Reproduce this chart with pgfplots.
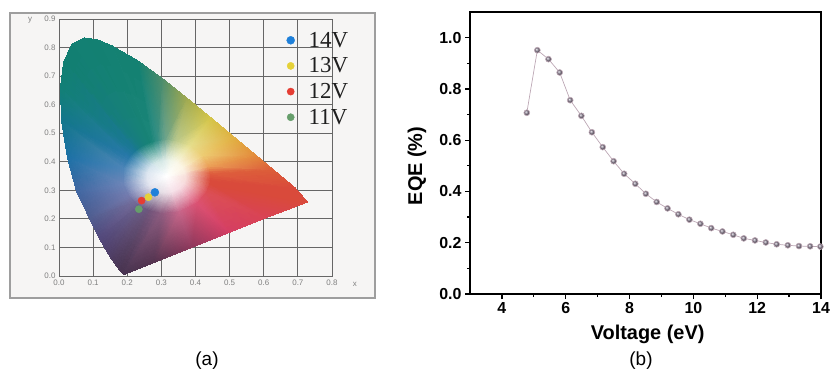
\documentclass[border=0pt]{standalone}
\usepackage{fontspec}
\setmainfont{Liberation Sans}
\newfontfamily\seriffont{Liberation Serif}
\usepackage{pgfplots}
\pgfplotsset{compat=1.18}
\definecolor{framegray}{rgb}{0.62,0.62,0.62}
\definecolor{framebg}{rgb}{0.965,0.96,0.955}
\definecolor{gridgray}{rgb}{0.40,0.40,0.40}
\definecolor{ticklab}{rgb}{0.50,0.50,0.50}
\definecolor{legtext}{rgb}{0.12,0.12,0.12}
\definecolor{c14}{rgb}{0.12,0.50,0.85}
\definecolor{c13}{rgb}{0.90,0.82,0.22}
\definecolor{c12}{rgb}{0.90,0.24,0.20}
\definecolor{c11}{rgb}{0.40,0.62,0.42}
\definecolor{eqeline}{rgb}{0.74,0.66,0.71}
\definecolor{eqeball}{rgb}{0.55,0.51,0.58}
\begin{document}
\begin{tikzpicture}[x=1bp,y=1bp]
\useasboundingbox (0,0) rectangle (831,377);
\draw[line width=1.4bp, draw=framegray, fill=framebg] (10,79) rectangle (375,364);
\begin{axis}[
  at={(59bp,101bp)}, anchor=south west, scale only axis,
  width=273bp, height=257bp,
  xmin=0, xmax=0.8, ymin=0, ymax=0.9,
  xtick={0,0.1,0.2,0.3,0.4,0.5,0.6,0.7,0.8},
  xticklabels={0.0,0.1,0.2,0.3,0.4,0.5,0.6,0.7,0.8},
  ytick={0,0.1,0.2,0.3,0.4,0.5,0.6,0.7,0.8,0.9},
  yticklabels={0.0,0.1,0.2,0.3,0.4,0.5,0.6,0.7,0.8,0.9},
  grid=major, grid style={draw=gridgray, line width=0.9bp},
  axis line style={draw=gridgray, line width=0.9bp},
  major tick length=0pt,
  tick label style={font=\fontsize{8}{9}\selectfont, text=ticklab},
  clip=false,
  legend style={at={(0.826,0.962)}, anchor=north west, draw=none, fill=none,
    font=\seriffont\fontsize{23}{25}\selectfont, text=legtext,
    row sep=7bp, inner sep=2bp, nodes={inner sep=1bp},
    /tikz/every odd column/.append style={column sep=13bp}},
  legend cell align=left,
]
% centre: white point to inner (pale) ring
\addplot[patch, patch type=triangle, shader=interp, mesh/color input=explicit, forget plot] table[meta=c] {
x y c
0.315 0.348 rgb=1,1,1
0.3724 0.3367 rgb=0.97,0.86,0.85
0.3732 0.3419 rgb=0.97,0.86,0.85
0.315 0.348 rgb=1,1,1
0.3732 0.3419 rgb=0.97,0.86,0.85
0.3733 0.3526 rgb=0.97,0.87,0.85
0.315 0.348 rgb=1,1,1
0.3733 0.3526 rgb=0.97,0.87,0.85
0.3712 0.3644 rgb=0.98,0.92,0.87
0.315 0.348 rgb=1,1,1
0.3712 0.3644 rgb=0.98,0.92,0.87
0.3629 0.3816 rgb=0.99,0.96,0.89
0.315 0.348 rgb=1,1,1
0.3629 0.3816 rgb=0.99,0.96,0.89
0.3460 0.3976 rgb=0.98,0.97,0.91
0.315 0.348 rgb=1,1,1
0.3460 0.3976 rgb=0.98,0.97,0.91
0.3270 0.4052 rgb=0.94,0.96,0.91
0.315 0.348 rgb=1,1,1
0.3270 0.4052 rgb=0.94,0.96,0.91
0.3127 0.4065 rgb=0.88,0.93,0.91
0.315 0.348 rgb=1,1,1
0.3127 0.4065 rgb=0.88,0.93,0.91
0.3030 0.4052 rgb=0.84,0.91,0.90
0.315 0.348 rgb=1,1,1
0.3030 0.4052 rgb=0.84,0.91,0.90
0.2957 0.4032 rgb=0.82,0.90,0.89
0.315 0.348 rgb=1,1,1
0.2957 0.4032 rgb=0.82,0.90,0.89
0.2924 0.4019 rgb=0.82,0.90,0.89
0.315 0.348 rgb=1,1,1
0.2924 0.4019 rgb=0.82,0.90,0.89
0.2890 0.4004 rgb=0.82,0.90,0.89
0.315 0.348 rgb=1,1,1
0.2890 0.4004 rgb=0.82,0.90,0.89
0.2851 0.3983 rgb=0.82,0.90,0.90
0.315 0.348 rgb=1,1,1
0.2851 0.3983 rgb=0.82,0.90,0.90
0.2799 0.3948 rgb=0.82,0.90,0.90
0.315 0.348 rgb=1,1,1
0.2799 0.3948 rgb=0.82,0.90,0.90
0.2733 0.3891 rgb=0.82,0.89,0.92
0.315 0.348 rgb=1,1,1
0.2733 0.3891 rgb=0.82,0.89,0.92
0.2653 0.3788 rgb=0.83,0.89,0.93
0.315 0.348 rgb=1,1,1
0.2653 0.3788 rgb=0.83,0.89,0.93
0.2579 0.3607 rgb=0.86,0.90,0.94
0.315 0.348 rgb=1,1,1
0.2579 0.3607 rgb=0.86,0.90,0.94
0.2576 0.3367 rgb=0.88,0.90,0.94
0.315 0.348 rgb=1,1,1
0.2576 0.3367 rgb=0.88,0.90,0.94
0.2648 0.3180 rgb=0.89,0.90,0.94
0.315 0.348 rgb=1,1,1
0.2648 0.3180 rgb=0.89,0.90,0.94
0.2728 0.3075 rgb=0.89,0.88,0.92
0.315 0.348 rgb=1,1,1
0.2728 0.3075 rgb=0.89,0.88,0.92
0.2789 0.3020 rgb=0.88,0.88,0.91
0.315 0.348 rgb=1,1,1
0.2789 0.3020 rgb=0.88,0.88,0.91
0.2829 0.2991 rgb=0.88,0.87,0.90
0.315 0.348 rgb=1,1,1
0.2829 0.2991 rgb=0.88,0.87,0.90
0.2897 0.2953 rgb=0.88,0.87,0.90
0.315 0.348 rgb=1,1,1
0.2897 0.2953 rgb=0.88,0.87,0.90
0.2928 0.2939 rgb=0.89,0.87,0.90
0.315 0.348 rgb=1,1,1
0.2928 0.2939 rgb=0.89,0.87,0.90
0.3081 0.2899 rgb=0.91,0.87,0.90
0.315 0.348 rgb=1,1,1
0.3081 0.2899 rgb=0.91,0.87,0.90
0.3323 0.2922 rgb=0.96,0.88,0.91
0.315 0.348 rgb=1,1,1
0.3323 0.2922 rgb=0.96,0.88,0.91
0.3557 0.3060 rgb=0.97,0.86,0.89
0.315 0.348 rgb=1,1,1
0.3557 0.3060 rgb=0.97,0.86,0.89
0.3679 0.3229 rgb=0.97,0.86,0.87
0.315 0.348 rgb=1,1,1
0.3679 0.3229 rgb=0.97,0.86,0.87
0.3724 0.3367 rgb=0.97,0.86,0.85
};
% quads: pale ring to coloured ring, then coloured ring to spectral locus / purple line
\addplot[patch, patch type=rectangle, shader=interp, mesh/color input=explicit, forget plot] table[meta=c] {
x y c
0.3724 0.3367 rgb=0.97,0.86,0.85
0.3732 0.3419 rgb=0.97,0.86,0.85
0.4443 0.3344 rgb=0.85,0.29,0.23
0.4426 0.3229 rgb=0.85,0.29,0.23
0.3732 0.3419 rgb=0.97,0.86,0.85
0.3733 0.3526 rgb=0.97,0.87,0.85
0.4446 0.3582 rgb=0.87,0.36,0.24
0.4443 0.3344 rgb=0.85,0.29,0.23
0.3733 0.3526 rgb=0.97,0.87,0.85
0.3712 0.3644 rgb=0.98,0.92,0.87
0.4398 0.3845 rgb=0.92,0.62,0.34
0.4446 0.3582 rgb=0.87,0.36,0.24
0.3712 0.3644 rgb=0.98,0.92,0.87
0.3629 0.3816 rgb=0.99,0.96,0.89
0.4214 0.4227 rgb=0.93,0.80,0.45
0.4398 0.3845 rgb=0.92,0.62,0.34
0.3629 0.3816 rgb=0.99,0.96,0.89
0.3460 0.3976 rgb=0.98,0.97,0.91
0.3839 0.4583 rgb=0.90,0.87,0.55
0.4214 0.4227 rgb=0.93,0.80,0.45
0.3460 0.3976 rgb=0.98,0.97,0.91
0.3270 0.4052 rgb=0.94,0.96,0.91
0.3417 0.4752 rgb=0.72,0.78,0.55
0.3839 0.4583 rgb=0.90,0.87,0.55
0.3270 0.4052 rgb=0.94,0.96,0.91
0.3127 0.4065 rgb=0.88,0.93,0.91
0.3099 0.4779 rgb=0.42,0.64,0.55
0.3417 0.4752 rgb=0.72,0.78,0.55
0.3127 0.4065 rgb=0.88,0.93,0.91
0.3030 0.4052 rgb=0.84,0.91,0.90
0.2883 0.4752 rgb=0.20,0.56,0.52
0.3099 0.4779 rgb=0.42,0.64,0.55
0.3030 0.4052 rgb=0.84,0.91,0.90
0.2957 0.4032 rgb=0.82,0.90,0.89
0.2720 0.4707 rgb=0.10,0.52,0.47
0.2883 0.4752 rgb=0.20,0.56,0.52
0.2957 0.4032 rgb=0.82,0.90,0.89
0.2924 0.4019 rgb=0.82,0.90,0.89
0.2647 0.4678 rgb=0.09,0.51,0.46
0.2720 0.4707 rgb=0.10,0.52,0.47
0.2924 0.4019 rgb=0.82,0.90,0.89
0.2890 0.4004 rgb=0.82,0.90,0.89
0.2573 0.4645 rgb=0.09,0.51,0.47
0.2647 0.4678 rgb=0.09,0.51,0.46
0.2890 0.4004 rgb=0.82,0.90,0.89
0.2851 0.3983 rgb=0.82,0.90,0.90
0.2485 0.4597 rgb=0.09,0.50,0.48
0.2573 0.4645 rgb=0.09,0.51,0.47
0.2851 0.3983 rgb=0.82,0.90,0.90
0.2799 0.3948 rgb=0.82,0.90,0.90
0.2371 0.4521 rgb=0.09,0.49,0.50
0.2485 0.4597 rgb=0.09,0.50,0.48
0.2799 0.3948 rgb=0.82,0.90,0.90
0.2733 0.3891 rgb=0.82,0.89,0.92
0.2224 0.4393 rgb=0.10,0.47,0.58
0.2371 0.4521 rgb=0.09,0.49,0.50
0.2733 0.3891 rgb=0.82,0.89,0.92
0.2653 0.3788 rgb=0.83,0.89,0.93
0.2046 0.4165 rgb=0.15,0.47,0.66
0.2224 0.4393 rgb=0.10,0.47,0.58
0.2653 0.3788 rgb=0.83,0.89,0.93
0.2579 0.3607 rgb=0.86,0.90,0.94
0.1881 0.3762 rgb=0.30,0.52,0.72
0.2046 0.4165 rgb=0.15,0.47,0.66
0.2579 0.3607 rgb=0.86,0.90,0.94
0.2576 0.3367 rgb=0.88,0.90,0.94
0.1875 0.3229 rgb=0.42,0.52,0.72
0.1881 0.3762 rgb=0.30,0.52,0.72
0.2576 0.3367 rgb=0.88,0.90,0.94
0.2648 0.3180 rgb=0.89,0.90,0.94
0.2034 0.2813 rgb=0.45,0.48,0.68
0.1875 0.3229 rgb=0.42,0.52,0.72
0.2648 0.3180 rgb=0.89,0.90,0.94
0.2728 0.3075 rgb=0.89,0.88,0.92
0.2213 0.2579 rgb=0.45,0.42,0.60
0.2034 0.2813 rgb=0.45,0.48,0.68
0.2728 0.3075 rgb=0.89,0.88,0.92
0.2789 0.3020 rgb=0.88,0.88,0.91
0.2347 0.2458 rgb=0.42,0.38,0.55
0.2213 0.2579 rgb=0.45,0.42,0.60
0.2789 0.3020 rgb=0.88,0.88,0.91
0.2829 0.2991 rgb=0.88,0.87,0.90
0.2436 0.2394 rgb=0.42,0.36,0.52
0.2347 0.2458 rgb=0.42,0.38,0.55
0.2829 0.2991 rgb=0.88,0.87,0.90
0.2897 0.2953 rgb=0.88,0.87,0.90
0.2588 0.2308 rgb=0.42,0.34,0.49
0.2436 0.2394 rgb=0.42,0.36,0.52
0.2897 0.2953 rgb=0.88,0.87,0.90
0.2928 0.2939 rgb=0.89,0.87,0.90
0.2656 0.2277 rgb=0.44,0.33,0.48
0.2588 0.2308 rgb=0.42,0.34,0.49
0.2928 0.2939 rgb=0.89,0.87,0.90
0.3081 0.2899 rgb=0.91,0.87,0.90
0.2996 0.2189 rgb=0.55,0.36,0.50
0.2656 0.2277 rgb=0.44,0.33,0.48
0.3081 0.2899 rgb=0.91,0.87,0.90
0.3323 0.2922 rgb=0.96,0.88,0.91
0.3535 0.2239 rgb=0.78,0.40,0.54
0.2996 0.2189 rgb=0.55,0.36,0.50
0.3323 0.2922 rgb=0.96,0.88,0.91
0.3557 0.3060 rgb=0.97,0.86,0.89
0.4054 0.2546 rgb=0.86,0.32,0.45
0.3535 0.2239 rgb=0.78,0.40,0.54
0.3557 0.3060 rgb=0.97,0.86,0.89
0.3679 0.3229 rgb=0.97,0.86,0.87
0.4325 0.2923 rgb=0.86,0.31,0.34
0.4054 0.2546 rgb=0.86,0.32,0.45
0.3679 0.3229 rgb=0.97,0.86,0.87
0.3724 0.3367 rgb=0.97,0.86,0.85
0.4426 0.3229 rgb=0.85,0.29,0.23
0.4325 0.2923 rgb=0.86,0.31,0.34
0.4426 0.3229 rgb=0.85,0.29,0.23
0.4443 0.3344 rgb=0.85,0.29,0.23
0.6915 0.3083 rgb=0.85,0.29,0.23
0.7280 0.2590 rgb=0.85,0.29,0.23
0.4443 0.3344 rgb=0.85,0.29,0.23
0.4446 0.3582 rgb=0.87,0.36,0.24
0.6270 0.3725 rgb=0.86,0.36,0.22
0.6915 0.3083 rgb=0.85,0.29,0.23
0.4446 0.3582 rgb=0.87,0.36,0.24
0.4398 0.3845 rgb=0.92,0.62,0.34
0.5752 0.4242 rgb=0.89,0.55,0.23
0.6270 0.3725 rgb=0.86,0.36,0.22
0.4398 0.3845 rgb=0.92,0.62,0.34
0.4214 0.4227 rgb=0.93,0.80,0.45
0.5125 0.4866 rgb=0.88,0.69,0.25
0.5752 0.4242 rgb=0.89,0.55,0.23
0.4214 0.4227 rgb=0.93,0.80,0.45
0.3839 0.4583 rgb=0.90,0.87,0.55
0.4441 0.5547 rgb=0.83,0.77,0.28
0.5125 0.4866 rgb=0.88,0.69,0.25
0.3839 0.4583 rgb=0.90,0.87,0.55
0.3417 0.4752 rgb=0.72,0.78,0.55
0.3731 0.6245 rgb=0.62,0.66,0.31
0.4441 0.5547 rgb=0.83,0.77,0.28
0.3417 0.4752 rgb=0.72,0.78,0.55
0.3099 0.4779 rgb=0.42,0.64,0.55
0.3016 0.6923 rgb=0.30,0.55,0.42
0.3731 0.6245 rgb=0.62,0.66,0.31
0.3099 0.4779 rgb=0.42,0.64,0.55
0.2883 0.4752 rgb=0.20,0.56,0.52
0.2296 0.7543 rgb=0.07,0.50,0.44
0.3016 0.6923 rgb=0.30,0.55,0.42
0.2883 0.4752 rgb=0.20,0.56,0.52
0.2720 0.4707 rgb=0.10,0.52,0.47
0.1547 0.8059 rgb=0.07,0.50,0.44
0.2296 0.7543 rgb=0.07,0.50,0.44
0.2720 0.4707 rgb=0.10,0.52,0.47
0.2647 0.4678 rgb=0.09,0.51,0.46
0.1142 0.8262 rgb=0.07,0.50,0.44
0.1547 0.8059 rgb=0.07,0.50,0.44
0.2647 0.4678 rgb=0.09,0.51,0.46
0.2573 0.4645 rgb=0.09,0.51,0.47
0.0743 0.8338 rgb=0.07,0.50,0.44
0.1142 0.8262 rgb=0.07,0.50,0.44
0.2573 0.4645 rgb=0.09,0.51,0.47
0.2485 0.4597 rgb=0.09,0.50,0.48
0.0389 0.8120 rgb=0.07,0.50,0.44
0.0743 0.8338 rgb=0.07,0.50,0.44
0.2485 0.4597 rgb=0.09,0.50,0.48
0.2371 0.4521 rgb=0.09,0.49,0.50
0.0139 0.7502 rgb=0.07,0.50,0.44
0.0389 0.8120 rgb=0.07,0.50,0.44
0.2371 0.4521 rgb=0.09,0.49,0.50
0.2224 0.4393 rgb=0.10,0.47,0.58
0.0039 0.6548 rgb=0.07,0.50,0.46
0.0139 0.7502 rgb=0.07,0.50,0.44
0.2224 0.4393 rgb=0.10,0.47,0.58
0.2046 0.4165 rgb=0.15,0.47,0.66
0.0082 0.5384 rgb=0.07,0.46,0.55
0.0039 0.6548 rgb=0.07,0.50,0.46
0.2046 0.4165 rgb=0.15,0.47,0.66
0.1881 0.3762 rgb=0.30,0.52,0.72
0.0250 0.4127 rgb=0.11,0.44,0.65
0.0082 0.5384 rgb=0.07,0.46,0.55
0.1881 0.3762 rgb=0.30,0.52,0.72
0.1875 0.3229 rgb=0.42,0.52,0.72
0.0520 0.2950 rgb=0.25,0.40,0.63
0.0250 0.4127 rgb=0.11,0.44,0.65
0.1875 0.3229 rgb=0.42,0.52,0.72
0.2034 0.2813 rgb=0.45,0.48,0.68
0.0900 0.2007 rgb=0.31,0.36,0.56
0.0520 0.2950 rgb=0.25,0.40,0.63
0.2034 0.2813 rgb=0.45,0.48,0.68
0.2213 0.2579 rgb=0.45,0.42,0.60
0.1180 0.1327 rgb=0.32,0.28,0.48
0.0900 0.2007 rgb=0.31,0.36,0.56
0.2213 0.2579 rgb=0.45,0.42,0.60
0.2347 0.2458 rgb=0.42,0.38,0.55
0.1400 0.0868 rgb=0.31,0.25,0.42
0.1180 0.1327 rgb=0.32,0.28,0.48
0.2347 0.2458 rgb=0.42,0.38,0.55
0.2436 0.2394 rgb=0.42,0.36,0.52
0.1550 0.0578 rgb=0.30,0.23,0.37
0.1400 0.0868 rgb=0.31,0.25,0.42
0.2436 0.2394 rgb=0.42,0.36,0.52
0.2588 0.2308 rgb=0.42,0.34,0.49
0.1800 0.0177 rgb=0.28,0.20,0.31
0.1550 0.0578 rgb=0.30,0.23,0.37
0.2588 0.2308 rgb=0.42,0.34,0.49
0.2656 0.2277 rgb=0.44,0.33,0.48
0.1900 0.0050 rgb=0.28,0.20,0.31
0.1800 0.0177 rgb=0.28,0.20,0.31
0.2656 0.2277 rgb=0.44,0.33,0.48
0.2996 0.2189 rgb=0.55,0.36,0.50
0.2800 0.0480 rgb=0.33,0.20,0.31
0.1900 0.0050 rgb=0.28,0.20,0.31
0.2996 0.2189 rgb=0.55,0.36,0.50
0.3535 0.2239 rgb=0.78,0.40,0.54
0.3900 0.1006 rgb=0.56,0.22,0.36
0.2800 0.0480 rgb=0.33,0.20,0.31
0.3535 0.2239 rgb=0.78,0.40,0.54
0.4054 0.2546 rgb=0.86,0.32,0.45
0.5000 0.1530 rgb=0.83,0.24,0.39
0.3900 0.1006 rgb=0.56,0.22,0.36
0.4054 0.2546 rgb=0.86,0.32,0.45
0.4325 0.2923 rgb=0.86,0.31,0.34
0.6100 0.2057 rgb=0.85,0.26,0.33
0.5000 0.1530 rgb=0.83,0.24,0.39
0.4325 0.2923 rgb=0.86,0.31,0.34
0.4426 0.3229 rgb=0.85,0.29,0.23
0.7280 0.2590 rgb=0.85,0.29,0.23
0.6100 0.2057 rgb=0.85,0.26,0.33
};
\addplot[only marks, mark=*, mark size=4bp, color=c14] coordinates {(0.281,0.293)};
\addlegendentry{14V}
\addplot[only marks, mark=*, mark size=3.6bp, color=c13] coordinates {(0.262,0.276)};
\addlegendentry{13V}
\addplot[only marks, mark=*, mark size=3.6bp, color=c12] coordinates {(0.242,0.264)};
\addlegendentry{12V}
\addplot[only marks, mark=*, mark size=3.6bp, color=c11] coordinates {(0.234,0.234)};
\addlegendentry{11V}
\node[font=\fontsize{8}{9}\selectfont, text=ticklab] at (axis cs:0.867,-0.028) {x};
\node[font=\fontsize{8}{9}\selectfont, text=ticklab] at (axis cs:-0.085,0.896) {y};
\end{axis}
\begin{axis}[
  at={(470bp,83bp)}, anchor=south west, scale only axis,
  width=351bp, height=282bp,
  xmin=3, xmax=14, ymin=0, ymax=1.1,
  xtick={4,6,8,10,12,14}, xticklabels={4,6,8,10,12,14},
  ytick={0,0.2,0.4,0.6,0.8,1.0}, yticklabels={0.0,0.2,0.4,0.6,0.8,1.0},
  minor xtick={5,7,9,11,13}, minor ytick={0.1,0.3,0.5,0.7,0.9},
  tick pos=left, tick align=outside,
  major tick length=5bp, minor tick length=3bp,
  axis line style={line width=1.6bp},
  every tick/.style={black, line width=1.3bp},
  /pgf/number format/assume math mode=true,
  tick label style={font=\bfseries\fontsize{16}{18}\selectfont},
  xlabel={Voltage (eV)}, ylabel={EQE (\%)},
  label style={font=\bfseries\fontsize{20}{22}\selectfont},
  xlabel style={at={(axis description cs:0.506,-0.142)}, anchor=center},
  ylabel style={at={(axis description cs:-0.151,0.454)}, anchor=center},
  clip=false,
]
\addplot[color=eqeline, line width=0.7bp, mark=ball, mark size=2.9bp, mark options={ball color=eqeball}] coordinates {
(4.78,0.707)(5.11,0.951)(5.46,0.916)(5.81,0.864)(6.14,0.756)(6.49,0.695)(6.82,0.631)(7.16,0.573)(7.50,0.518)(7.83,0.469)(8.18,0.430)(8.51,0.391)(8.85,0.359)(9.19,0.334)(9.53,0.311)(9.875,0.290)(10.22,0.274)(10.56,0.257)(10.91,0.244)(11.25,0.231)(11.58,0.217)(11.93,0.209)(12.27,0.201)(12.61,0.194)(12.96,0.190)(13.31,0.187)(13.66,0.186)(13.98,0.185)
};
\end{axis}
\node[font=\fontsize{19}{21}\selectfont] at (207,16) {(a)};
\node[font=\fontsize{19}{21}\selectfont] at (641,16) {(b)};
\end{tikzpicture}
\end{document}
